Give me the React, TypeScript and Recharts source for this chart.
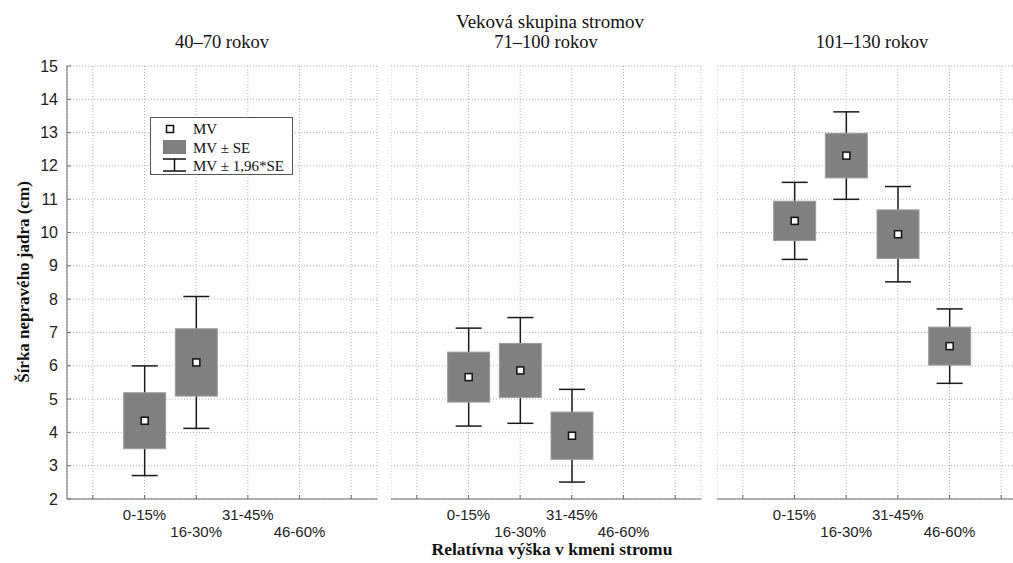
import React from 'react';
import { ComposedChart, Bar, XAxis, YAxis, CartesianGrid, Legend } from 'recharts';

// kategórie relatívnej výšky (prázdne sloty na okrajoch ako v origináli)
const slots = ['', '0-15%', '16-30%', '31-45%', '46-60%', ''];
const yTicks = [2, 3, 4, 5, 6, 7, 8, 9, 10, 11, 12, 13, 14, 15];
const panelTitles = ['40–70 rokov', '71–100 rokov', '101–130 rokov'];

// priemery (MV) a stredné chyby (SE) podľa vekových skupín
const mean40 = [4.35, 6.1, null, null];
const se40 = [0.84, 1.01, null, null];
const mean71 = [5.66, 5.86, 3.9, null];
const se71 = [0.75, 0.81, 0.71, null];
const mean101 = [10.35, 12.31, 9.95, 6.59];
const se101 = [0.59, 0.67, 0.73, 0.57];

const SERIF = '"Liberation Serif", "Times New Roman", serif';
const SANS = '"Liberation Sans", Arial, sans-serif';
const AXIS = '#6a6a6a';

const PLOT_H = 433;
const PLOT_W = 310;
const TOP = 56;

function buildData(means: (number | null)[], ses: (number | null)[]) {
  return slots.map((label, i) => {
    const c = i - 1;
    const m = c >= 0 && c < means.length ? means[c] : null;
    const s = c >= 0 && c < ses.length ? ses[c] : null;
    return {
      key: 's' + i,
      label,
      mean: m,
      se: s,
      whisker: m == null || s == null ? null : [m - 1.96 * s, m + 1.96 * s],
    };
  });
}

const BoxShape = (props: any) => {
  const { x, y, width, height, payload } = props;
  if (!payload || payload.mean == null || !payload.whisker) return null;
  const [lo, hi] = payload.whisker;
  const top = Math.min(y, y + height);
  const h = Math.abs(height);
  const k = h / (hi - lo);
  const py = (v: number) => top + (hi - v) * k;
  const cx = x + width / 2;
  const boxTop = py(payload.mean + payload.se);
  const boxBot = py(payload.mean - payload.se);
  const my = py(payload.mean);
  return (
    <g>
      <line x1={cx} x2={cx} y1={py(hi)} y2={py(lo)} stroke="#1a1a1a" strokeWidth={1.5} />
      <line x1={cx - 13} x2={cx + 13} y1={py(hi)} y2={py(hi)} stroke="#1a1a1a" strokeWidth={1.5} />
      <line x1={cx - 13} x2={cx + 13} y1={py(lo)} y2={py(lo)} stroke="#1a1a1a" strokeWidth={1.5} />
      <rect x={x} y={boxTop} width={width} height={boxBot - boxTop} fill="#808080" stroke="#9c9c9c" strokeWidth={1} />
      <rect x={cx - 3.5} y={my - 3.5} width={7} height={7} fill="#fff" stroke="#111" strokeWidth={1.5} />
    </g>
  );
};

const BottomTick = (props: any) => {
  const { x, y, index } = props;
  const label = slots[index] ?? '';
  const row2 = index % 2 === 0;
  return (
    <g>
      <line x1={x} x2={x} y1={y} y2={y - 4} stroke={AXIS} />
      {label && (
        <text x={x} y={y} dy={row2 ? 38 : 21} textAnchor="middle" fontFamily={SANS} fontSize={15} fill="#222">
          {label}
        </text>
      )}
    </g>
  );
};

const TopTick = (props: any) => {
  const { x, y } = props;
  return <line x1={x} x2={x} y1={y} y2={y + 4} stroke={AXIS} />;
};

const LeftTick = (props: any) => {
  const { x, y, payload, showLabel } = props;
  return (
    <g>
      <line x1={x} x2={x + 4} y1={y} y2={y} stroke={AXIS} />
      {showLabel && (
        <text x={x - 9} y={y} dy={5.5} textAnchor="end" fontFamily={SANS} fontSize={16} fill="#222">
          {payload.value}
        </text>
      )}
    </g>
  );
};

const RightTick = (props: any) => {
  const { x, y } = props;
  return <line x1={x} x2={x - 4} y1={y} y2={y} stroke={AXIS} />;
};

const LegendBox = () => (
  <div
    style={{
      width: 141,
      height: 56,
      border: '1px solid #555',
      background: '#fff',
      position: 'relative',
      fontFamily: SERIF,
      fontSize: 15,
      color: '#111',
    }}
  >
    <svg width={40} height={56} style={{ position: 'absolute', left: 0, top: 0 }}>
      <rect x={15.5} y={7.5} width={7} height={7} fill="#fff" stroke="#111" strokeWidth={1.5} />
      <rect x={12} y={22} width={23} height={14} fill="#808080" />
      <line x1={12} x2={35} y1={41} y2={41} stroke="#111" strokeWidth={1.5} />
      <line x1={23.5} x2={23.5} y1={41} y2={53} stroke="#111" strokeWidth={1.5} />
      <line x1={12} x2={35} y1={53} y2={53} stroke="#111" strokeWidth={1.5} />
    </svg>
    <div style={{ position: 'absolute', left: 42, top: 2, lineHeight: '18.5px', whiteSpace: 'nowrap' }}>
      <div>MV</div>
      <div>MV ± SE</div>
      <div>MV ± 1,96*SE</div>
    </div>
  </div>
);

function Panel({
  means,
  ses,
  left,
  first,
}: {
  means: (number | null)[];
  ses: (number | null)[];
  left: number;
  first: boolean;
}) {
  const data = buildData(means, ses);
  const yw = first ? 67 : 0;
  return (
    <div style={{ position: 'absolute', left, top: TOP }}>
      <ComposedChart
        width={yw + PLOT_W + 1}
        height={10 + PLOT_H + 50}
        data={data}
        margin={{ top: 10, right: 1, left: 0, bottom: 0 }}
      >
        <CartesianGrid strokeDasharray="1 2" stroke="#b4b4b4" />
        <XAxis
          dataKey="key"
          interval={0}
          height={50}
          tickSize={0}
          tickMargin={0}
          tick={<BottomTick />}
          axisLine={{ stroke: AXIS }}
        />
        <XAxis
          xAxisId="top"
          orientation="top"
          dataKey="key"
          interval={0}
          height={0}
          tickSize={0}
          tickMargin={0}
          tick={<TopTick />}
          axisLine={{ stroke: AXIS }}
        />
        <YAxis
          type="number"
          domain={[2, 15]}
          ticks={yTicks}
          interval={0}
          width={yw}
          tickSize={0}
          tickMargin={0}
          tick={<LeftTick showLabel={first} />}
          axisLine={{ stroke: AXIS }}
        />
        <YAxis
          yAxisId="right"
          orientation="right"
          type="number"
          domain={[2, 15]}
          ticks={yTicks}
          interval={0}
          width={0}
          tickSize={0}
          tickMargin={0}
          tick={<RightTick />}
          axisLine={{ stroke: AXIS }}
        />
        <Bar dataKey="whisker" barSize={42} shape={BoxShape} isAnimationActive={false} />
        {first && (
          <Legend
            layout="vertical"
            align="center"
            verticalAlign="middle"
            content={<LegendBox />}
            wrapperStyle={{ position: 'absolute', left: 150, top: 117 - TOP, width: 143, height: 58 }}
          />
        )}
      </ComposedChart>
    </div>
  );
}

export default function App() {
  const centers = [67 + PLOT_W / 2, 391 + PLOT_W / 2, 717 + PLOT_W / 2];
  return (
    <div
      style={{
        position: 'fixed',
        left: 0,
        top: 0,
        width: 1013,
        height: 563,
        overflow: 'hidden',
        background: '#fff',
      }}
    >
      <Panel means={mean40} ses={se40} left={0} first />
      <Panel means={mean71} ses={se71} left={391} first={false} />
      <Panel means={mean101} ses={se101} left={717} first={false} />
      <svg width={1013} height={563} style={{ position: 'absolute', left: 0, top: 0, pointerEvents: 'none' }}>
        <text x={550} y={28} textAnchor="middle" fontFamily={SERIF} fontSize={19} fill="#111">
          Veková skupina stromov
        </text>
        {panelTitles.map((t, i) => (
          <text key={t} x={centers[i]} y={48} textAnchor="middle" fontFamily={SERIF} fontSize={18.5} fill="#111">
            {t}
          </text>
        ))}
        <text
          x={0}
          y={0}
          transform="translate(29, 282) rotate(-90)"
          textAnchor="middle"
          fontFamily={SERIF}
          fontWeight="bold"
          fontSize={17}
          fill="#111"
        >
          Šírka nepravého jadra (cm)
        </text>
        <text x={552} y={555} textAnchor="middle" fontFamily={SERIF} fontWeight="bold" fontSize={17.5} fill="#111">
          Relatívna výška v kmeni stromu
        </text>
      </svg>
    </div>
  );
}
